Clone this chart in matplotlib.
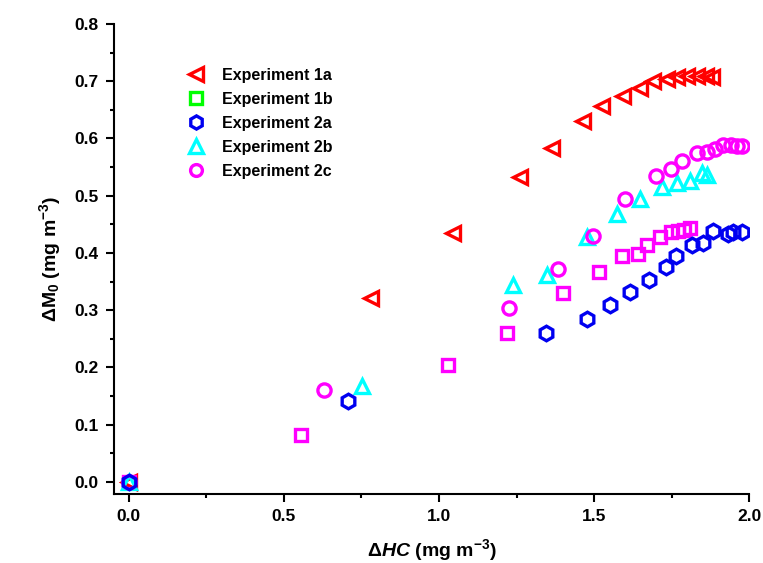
import matplotlib
matplotlib.use('Agg')
import matplotlib.pyplot as plt
from matplotlib.lines import Line2D
from matplotlib.ticker import MultipleLocator

plt.rcParams['font.family'] = 'Liberation Sans'
plt.rcParams['font.weight'] = 'bold'
plt.rcParams['mathtext.fontset'] = 'custom'
plt.rcParams['mathtext.rm'] = 'Liberation Sans:bold'
plt.rcParams['mathtext.it'] = 'Liberation Sans:bold:italic'
plt.rcParams['mathtext.bf'] = 'Liberation Sans:bold'

# Experiment 1a (red, left triangles)
x_1a = [0, 0.78, 1.045, 1.26, 1.365, 1.465, 1.525, 1.594, 1.648, 1.69, 1.735, 1.768, 1.80, 1.83, 1.86, 1.88]
y_1a = [0, 0.321, 0.435, 0.533, 0.584, 0.63, 0.656, 0.674, 0.688, 0.70, 0.704, 0.708, 0.71, 0.71, 0.709, 0.707]

# Experiment 1b (squares)
x_1b = [0, 0.555, 1.03, 1.22, 1.40, 1.516, 1.59, 1.64, 1.67, 1.713, 1.748, 1.77, 1.79, 1.81]
y_1b = [0, 0.082, 0.205, 0.26, 0.33, 0.367, 0.395, 0.398, 0.414, 0.428, 0.437, 0.439, 0.44, 0.444]

# Experiment 2a (blue hexagons)
x_2a = [0, 0.707, 1.345, 1.477, 1.55, 1.616, 1.677, 1.732, 1.765, 1.816, 1.852, 1.884, 1.93, 1.948, 1.977]
y_2a = [0, 0.142, 0.261, 0.284, 0.309, 0.331, 0.353, 0.375, 0.395, 0.414, 0.417, 0.438, 0.433, 0.437, 0.437]

# Experiment 2b (cyan triangles)
x_2b = [0, 0.752, 1.24, 1.347, 1.477, 1.574, 1.648, 1.719, 1.768, 1.81, 1.848, 1.865]
y_2b = [0, 0.167, 0.344, 0.361, 0.428, 0.468, 0.495, 0.516, 0.523, 0.526, 0.539, 0.537]

# Experiment 2c (magenta circles)
x_2c = [0, 0.629, 1.226, 1.384, 1.497, 1.60, 1.70, 1.748, 1.784, 1.832, 1.865, 1.89, 1.916, 1.94, 1.96, 1.977]
y_2c = [0, 0.16, 0.303, 0.372, 0.43, 0.495, 0.535, 0.546, 0.56, 0.575, 0.577, 0.582, 0.588, 0.588, 0.586, 0.586]

labels = ['Experiment 1a', 'Experiment 1b', 'Experiment 2a', 'Experiment 2b', 'Experiment 2c']

fig = plt.figure(figsize=(7.63, 5.63), dpi=100)
ax = fig.add_axes([0.149, 0.1226, 0.833, 0.8348])

ms = 10.5
mew = 2.4
series = [
    (x_1a, y_1a, '<', '#FF0000', ms, 2),
    (x_1b, y_1b, 's', '#FF00FF', ms - 1.5, 2),
    (x_2a, y_2a, 'h', '#0000F0', ms, 6),
    (x_2b, y_2b, '^', '#00FFFF', ms, 3),
    (x_2c, y_2c, 'o', '#FF00FF', ms - 1, 4),
]
for xs, ys, m, c, s, z in series:
    ax.plot(xs, ys, linestyle='none', marker=m, markersize=s, markerfacecolor='none',
            markeredgecolor=c, markeredgewidth=mew, zorder=z)

# legend shows 1b in green
leg_colors = ['#FF0000', '#00FF00', '#0000F0', '#00FFFF', '#FF00FF']
handles = []
for (xs, ys, m, c, s, z), lc in zip(series, leg_colors):
    handles.append(Line2D([], [], linestyle='none', marker=m, markersize=s - 1,
                          markerfacecolor='none', markeredgecolor=lc, markeredgewidth=mew))
ax.legend(handles, labels, loc='upper left', bbox_to_anchor=(0.095, 0.937), frameon=False,
          prop={'weight': 'bold', 'size': 11.5}, handletextpad=1.1, labelspacing=0.56,
          handlelength=1.0)

ax.set_xlim(-0.048, 2.0)
ax.set_ylim(-0.021, 0.8)
ax.xaxis.set_major_locator(MultipleLocator(0.5))
ax.xaxis.set_minor_locator(MultipleLocator(0.25))
ax.yaxis.set_major_locator(MultipleLocator(0.1))
ax.yaxis.set_minor_locator(MultipleLocator(0.05))
ax.xaxis.set_major_formatter(plt.FuncFormatter(lambda v, p: f'{v:.1f}'))
ax.yaxis.set_major_formatter(plt.FuncFormatter(lambda v, p: f'{v:.1f}'))

for side in ['top', 'right']:
    ax.spines[side].set_visible(False)
for side in ['left', 'bottom']:
    ax.spines[side].set_linewidth(1.5)
ax.tick_params(which='major', direction='out', length=6, width=1.5, labelsize=12.5, pad=5)
ax.tick_params(which='minor', direction='out', length=3, width=1.5)
for lab in ax.get_xticklabels() + ax.get_yticklabels():
    lab.set_fontweight('bold')

ax.set_xlabel(r'$\Delta \mathit{HC}$ (mg m$^{-3}$)', fontsize=14, fontweight='bold', labelpad=9)
ax.set_ylabel(r'$\Delta$M$_0$ (mg m$^{-3}$)', fontsize=14, fontweight='bold', labelpad=8)

fig.savefig('out.png', dpi=100)
